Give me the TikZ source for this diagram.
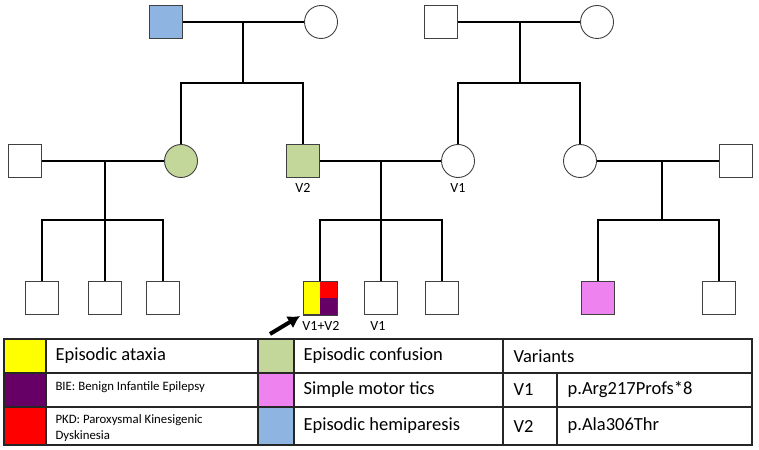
\documentclass[tikz,border=0pt]{standalone}
\usepackage{fontspec}
\setmainfont{Carlito}
\usetikzlibrary{arrows.meta}
\definecolor{ataxia}{RGB}{255,255,0}
\definecolor{bie}{RGB}{102,0,102}
\definecolor{pkd}{RGB}{255,0,0}
\definecolor{confus}{RGB}{196,215,155}
\definecolor{tics}{RGB}{238,130,238}
\definecolor{hemi}{RGB}{142,180,226}

\begin{document}
\begin{tikzpicture}[x=1pt,y=-1pt,
    male/.style={draw=black!75,rectangle,minimum size=33pt,inner sep=0pt,line width=0.9pt},
    female/.style={draw=black!75,circle,minimum size=33pt,inner sep=0pt,line width=0.9pt},
    kin/.style={line width=2.2pt},
    tab/.style={line width=1.3pt,draw=black!85},
    lab/.style={font=\fontsize{14}{16}\selectfont},
    big/.style={font=\fontsize{18.5}{22}\selectfont,anchor=west},
    small/.style={anchor=west,align=left,font=\fontsize{12.8}{16}\selectfont}]
                \useasboundingbox(0,0)rectangle(759,449);
                % generation I
                \node[male,fill=hemi](gpa1) at (166,22){};
                \node[female](gma1) at (321,22){};
                \node[male](gpa2) at (441,22){};
                \node[female](gma2) at (597,22){};
                % generation II
                \node[male](unc1) at (25,161){};
                \node[female,fill=confus](aunt1) at (181,161){};
                \node[male,fill=confus](dad) at (303,161){};
                \node[female](mum) at (458,161){};
                \node[female](aunt2) at (580,161){};
                \node[male](unc2) at (736,161){};
                \node[lab](lv2) at (303,188){V2};
                \node[lab](lv1) at (458,188){V1};
                % generation III
                \node[male](cou1) at (42,298){};
                \node[male](cou2) at (105,298){};
                \node[male](cou3) at (163,298){};
                \node[male,fill=ataxia](prob) at (320,298){};
                \fill[pkd](prob.north)rectangle(prob.east);
                \fill[bie](prob.center)rectangle(prob.south east);
                \node[male](sib1) at (381,298){};
                \node[male](sib2) at (442,298){};
                \node[male,fill=tics](cou4) at (598,298){};
                \node[male](cou5) at (719,298){};
                \node[lab](lv12) at (321,326){V1+V2};
                \node[lab](lv1b) at (378,326){V1};
                % marriages and sibships
                \draw[kin](gpa1)--(gma1);
                \draw[kin](gpa2)--(gma2);
                \draw[kin](unc1)--(aunt1);
                \draw[kin](dad)--(mum);
                \draw[kin](aunt2)--(unc2);
                \coordinate(m1) at (243,22);
                \coordinate(s1) at (243,83);
                \coordinate(m2) at (520,22);
                \coordinate(s2) at (520,83);
                \coordinate(m3) at (105,161);
                \coordinate(s3) at (105,220);
                \coordinate(m4) at (381,161);
                \coordinate(s4) at (381,220);
                \coordinate(m5) at (662,161);
                \coordinate(s5) at (662,220);
                \draw[kin](m1)--(s1);
                \draw[kin](aunt1)--(aunt1|-s1)--(dad|-s1)--(dad);
                \draw[kin](m2)--(s2);
                \draw[kin](mum)--(mum|-s2)--(aunt2|-s2)--(aunt2);
                \draw[kin](m3)--(cou2);
                \draw[kin](cou1)--(cou1|-s3)--(cou3|-s3)--(cou3);
                \draw[kin](m4)--(sib1);
                \draw[kin](prob)--(prob|-s4)--(sib2|-s4)--(sib2);
                \draw[kin](m5)--(s5);
                \draw[kin](cou4)--(cou4|-s5)--(cou5|-s5)--(cou5);
                \draw[male,fill=none](prob.south west)rectangle(prob.north east);
                % proband arrow
                \coordinate(tail) at (270,334);
                \coordinate(tip) at (300,316);
                \draw[-{Latex[length=12pt,width=14pt]},line width=4pt](tail)--(tip);
                % legend
                \fill[ataxia](4,339)rectangle(46,373);
                \fill[bie](4,373)rectangle(46,407);
                \fill[pkd](4,407)rectangle(46,445);
                \fill[confus](258,339)rectangle(294,373);
                \fill[tics](258,373)rectangle(294,407);
                \fill[hemi](258,407)rectangle(294,445);
                \draw[tab](4,339)rectangle(752,445);
                \draw[tab](4,373)--(752,373);
                \draw[tab](4,407)--(752,407);
                \draw[tab](46,339)--(46,445);
                \draw[tab](258,339)--(258,445);
                \draw[tab](294,339)--(294,445);
                \draw[tab](503,339)--(503,445);
                \draw[tab](557,373)--(557,445);
                \node[big](tx1) at (52,356){Episodic ataxia};
                \node[small](tx2) at (52,387){BIE: Benign Infantile Epilepsy};
                \node[small](tx3) at (52,428){PKD: Paroxysmal Kinesigenic\\Dyskinesia};
                \node[big](tx4) at (300,356){Episodic confusion};
                \node[big](tx5) at (300,390){Simple motor tics};
                \node[big](tx6) at (300,426){Episodic hemiparesis};
                \node[big](tx7) at (510,356){Variants};
                \node[big](tx8) at (510,390){V1};
                \node[big](tx9) at (510,426){V2};
                \node[big](tx10) at (564,390){p.Arg217Profs*8};
                \node[big](tx11) at (564,426){p.Ala306Thr};
            \end{tikzpicture}
\end{document}
